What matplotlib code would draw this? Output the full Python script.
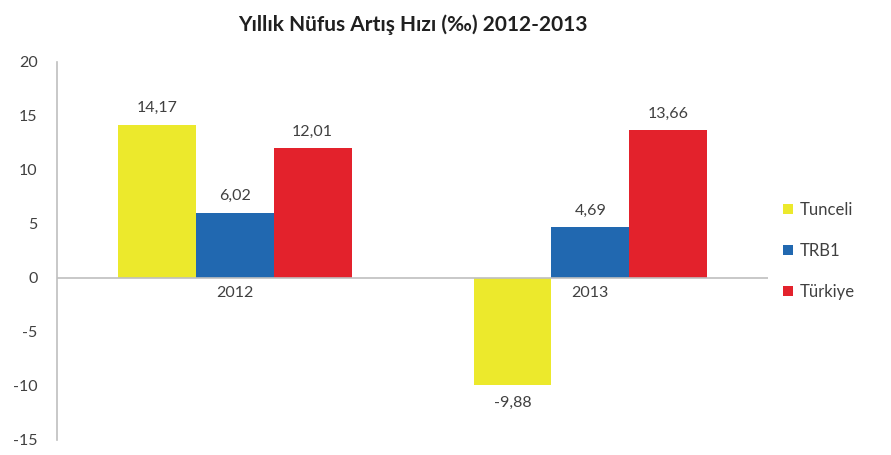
import matplotlib.pyplot as plt
import numpy as np

plt.rcParams['font.family'] = ['Lato', 'DejaVu Sans']
plt.rcParams['axes.unicode_minus'] = False

years = ["2012", "2013"]
series_names = ["Tunceli", "TRB1", "Türkiye"]
tunceli = [14.17, -9.88]
trb1 = [6.02, 4.69]
turkiye = [12.01, 13.66]
colors = ["#ECE92C", "#2168B0", "#E3222C"]

fig = plt.figure(figsize=(8.91, 4.55), dpi=100)
ax = fig.add_axes([0.064, 0.033, 0.798, 0.831])

x = np.arange(len(years))
width = 0.219
offsets = [-width, 0, width]
for vals, name, col, off in zip([tunceli, trb1, turkiye], series_names, colors, offsets):
    bars = ax.bar(x + off, vals, width, color=col, label=name)
    for b, v in zip(bars, vals):
        txt = f"{v:.2f}".replace(".", ",")
        if v >= 0:
            ax.annotate(txt, (b.get_x() + b.get_width() / 2, v), xytext=(0, 7),
                        textcoords="offset points", ha="center", va="bottom",
                        fontsize=11.5, color="#404040")
        else:
            ax.annotate(txt, (b.get_x() + b.get_width() / 2, v), xytext=(0, -8),
                        textcoords="offset points", ha="center", va="top",
                        fontsize=11.5, color="#404040")

# category labels just under the zero line
for xi, yr in zip(x, years):
    ax.annotate(yr, (xi, 0), xytext=(0, -6), textcoords="offset points",
                ha="center", va="top", fontsize=11.5, color="#404040")

ax.set_xlim(-0.5, 1.5)
ax.set_ylim(-15, 20)
ax.set_yticks(range(-15, 21, 5))
ax.tick_params(axis="y", length=0, labelsize=11.5, labelcolor="#404040", pad=14)
ax.set_xticks([])
ax.axhline(0, color="#bfbfbf", lw=1.2)
for s in ["top", "right", "bottom"]:
    ax.spines[s].set_visible(False)
ax.spines["left"].set_color("#bfbfbf")
ax.spines["left"].set_linewidth(1.2)

ax.set_title("Yıllık Nüfus Artış Hızı (‰) 2012-2013", fontsize=15, fontweight="bold",
             color="#202020", pad=22)

ax.legend(loc="center left", bbox_to_anchor=(1.0, 0.50), frameon=False,
          handlelength=0.6, handleheight=0.6, handletextpad=0.4,
          labelspacing=1.5, fontsize=12, labelcolor="#404040")

fig.savefig("out.png", dpi=100)
